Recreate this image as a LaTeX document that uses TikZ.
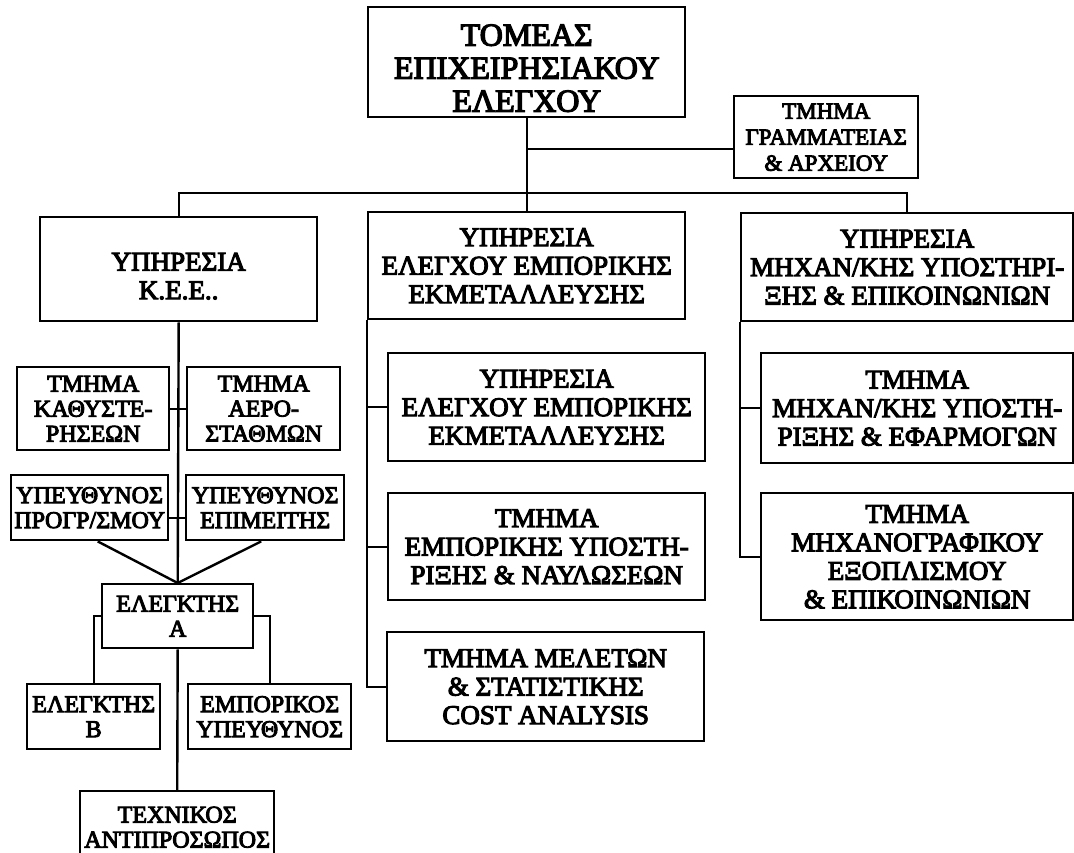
\documentclass[tikz,border=0pt]{standalone}
\usepackage{fontspec}
\setmainfont{Liberation Serif}[RawFeature={embolden=4}]
\usetikzlibrary{calc}
\begin{document}
\begin{tikzpicture}[x=1pt,y=-1pt,
  orgbox/.style={draw, line width=2.4pt, inner sep=0pt, align=center, anchor=north west},
  caption/.style={align=center, inner sep=0pt},
  headfont/.style={font=\fontsize{32}{33}\selectfont},
  bigfont/.style={font=\fontsize{27}{28.5}\selectfont},
  smallfont/.style={font=\fontsize{24}{25}\selectfont},
  gramfont/.style={font=\fontsize{23}{26}\selectfont},
  wire/.style={line width=2.4pt}]
\fill[white] (0,0) rectangle (1074,853);
\clip (0,0) rectangle (1074,853);

% sector head and secretariat
\node[orgbox, minimum width=317pt, minimum height=110pt] (top) at (367,6) {};
\node[caption, headfont] (toptext) at ($(top.center)+(0,6)$)
  {ΤΟΜΕΑΣ\\ΕΠΙΧΕΙΡΗΣΙΑΚΟΥ\\ΕΛΕΓΧΟΥ};
\node[orgbox, gramfont, minimum width=184pt, minimum height=82pt] (gram) at (733,95)
  {ΤΜΗΜΑ\\ΓΡΑΜΜΑΤΕΙΑΣ\\\& ΑΡΧΕΙΟΥ};

% the three services
\node[orgbox, minimum width=277pt, minimum height=104pt] (kee) at (39,216) {};
\node[caption, bigfont] (keetext) at ($(kee.center)+(0,7)$) {ΥΠΗΡΕΣΙΑ\\Κ.Ε.Ε..};
\node[orgbox, bigfont, minimum width=317pt, minimum height=107pt] (ekm) at (367,211)
  {ΥΠΗΡΕΣΙΑ\\ΕΛΕΓΧΟΥ ΕΜΠΟΡΙΚΗΣ\\ΕΚΜΕΤΑΛΛΕΥΣΗΣ};
\node[orgbox, bigfont, minimum width=332pt, minimum height=108pt] (mix) at (740,212)
  {ΥΠΗΡΕΣΙΑ\\ΜΗΧΑΝ/ΚΗΣ ΥΠΟΣΤΗΡΙ-\\ΞΗΣ \& ΕΠΙΚΟΙΝΩΝΙΩΝ};

% middle column
\node[orgbox, bigfont, minimum width=317pt, minimum height=108pt] (ekm2) at (387,352)
  {ΥΠΗΡΕΣΙΑ\\ΕΛΕΓΧΟΥ ΕΜΠΟΡΙΚΗΣ\\ΕΚΜΕΤΑΛΛΕΥΣΗΣ};
\node[orgbox, bigfont, minimum width=317pt, minimum height=107pt] (nav) at (387,492)
  {ΤΜΗΜΑ\\ΕΜΠΟΡΙΚΗΣ ΥΠΟΣΤΗ-\\ΡΙΞΗΣ \& ΝΑΥΛΩΣΕΩΝ};
\node[orgbox, bigfont, minimum width=317pt, minimum height=109pt] (mel) at (386,631)
  {ΤΜΗΜΑ ΜΕΛΕΤΩΝ\\\& ΣΤΑΤΙΣΤΙΚΗΣ\\COST ANALYSIS};

% right column
\node[orgbox, bigfont, minimum width=312pt, minimum height=110pt] (mix2) at (760,352)
  {ΤΜΗΜΑ\\ΜΗΧΑΝ/ΚΗΣ ΥΠΟΣΤΗ-\\ΡΙΞΗΣ \& ΕΦΑΡΜΟΓΩΝ};
\node[orgbox, bigfont, minimum width=312pt, minimum height=127pt] (mix3) at (760,492)
  {ΤΜΗΜΑ\\ΜΗΧΑΝΟΓΡΑΦΙΚΟΥ\\ΕΞΟΠΛΙΣΜΟΥ\\\& ΕΠΙΚΟΙΝΩΝΙΩΝ};

% left column
\node[orgbox, smallfont, minimum width=152pt, minimum height=83pt] (kath) at (16,366)
  {ΤΜΗΜΑ\\ΚΑΘΥΣΤΕ-\\ΡΗΣΕΩΝ};
\node[orgbox, smallfont, minimum width=153pt, minimum height=83pt] (aer) at (186,366)
  {ΤΜΗΜΑ\\ΑΕΡΟ-\\ΣΤΑΘΜΩΝ};
\node[orgbox, smallfont, minimum width=157pt, minimum height=65pt] (prog) at (10,474)
  {ΥΠΕΥΘΥΝΟΣ\\ΠΡΟΓΡ/ΣΜΟΥ};
\node[orgbox, smallfont, minimum width=158pt, minimum height=65pt] (epim) at (185,474)
  {ΥΠΕΥΘΥΝΟΣ\\ΕΠΙΜΕΙΤΗΣ};
\node[orgbox, smallfont, minimum width=151pt, minimum height=64pt] (elA) at (101,583)
  {ΕΛΕΓΚΤΗΣ\\Α};
\node[orgbox, smallfont, minimum width=133pt, minimum height=65pt] (elB) at (26,683)
  {ΕΛΕΓΚΤΗΣ\\Β};
\node[orgbox, smallfont, minimum width=163pt, minimum height=65pt] (emp) at (187,683)
  {ΕΜΠΟΡΙΚΟΣ\\ΥΠΕΥΘΥΝΟΣ};
\node[orgbox, smallfont, minimum width=194pt, minimum height=72pt] (tex) at (79,790)
  {ΤΕΧΝΙΚΟΣ\\ΑΝΤΙΠΡΟΣΩΠΟΣ};

% upper connectors
\coordinate (gj) at (526,149);
\draw[wire] (top.south) -- (ekm.north);
\draw[wire] (gj) -- (gj -| gram.west);
\draw[wire] (kee.north) -- ++(0,-23) -| (mix.north);

% left column connectors
\draw[wire] (kee.south) -- (elA.north);
\draw[wire] (kath.east) -- (aer.west);
\draw[wire] ([yshift=-10pt]prog.east) -- ([yshift=-10pt]epim.west);
\draw[wire] ($(prog.south)+(8,0)$) -- (elA.north);
\draw[wire] ($(epim.south)+(-4,0)$) -- (elA.north);
\draw[wire] (elA.west) -| (elB.north);
\draw[wire] (elA.east) -| (emp.north);
\draw[wire] (elA.south) -- (tex.north);

% middle column connectors
\draw[wire] (ekm.south west) |- (mel.west);
\draw[wire] (ekm.south west |- ekm2.west) -- (ekm2.west);
\draw[wire] (ekm.south west |- nav.west) -- (nav.west);

% right column connectors
\draw[wire] (mix.south west) |- (mix3.west);
\draw[wire] (mix.south west |- mix2.west) -- (mix2.west);
\end{tikzpicture}
\end{document}
